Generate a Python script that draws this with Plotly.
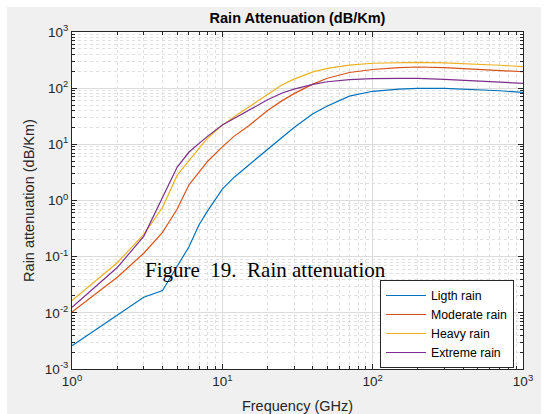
import plotly.graph_objects as go

# ---- data ----
freq = [1, 2, 3, 4, 5, 6, 7, 8, 10, 12, 15, 20, 25, 30, 40, 50, 70, 100, 150, 200, 300, 500, 700, 1000]

light_rain = [0.0026, 0.0092, 0.019, 0.025, 0.065, 0.15, 0.37, 0.66, 1.6, 2.6, 4.3, 8.2, 13.5, 20,
              35, 48, 72, 88, 96, 99, 99, 95, 90, 84]
moderate_rain = [0.0103, 0.043, 0.115, 0.27, 0.7, 1.9, 3.2, 5.0, 9.0, 14, 21.5, 40, 60, 80,
                 118, 150, 190, 215, 232, 238, 233, 215, 205, 196]
heavy_rain = [0.0165, 0.078, 0.25, 0.75, 2.8, 5.2, 8.5, 13, 22, 31, 46, 78, 115, 145,
              195, 225, 258, 278, 285, 287, 282, 268, 256, 242]
extreme_rain = [0.0125, 0.064, 0.23, 1.1, 3.9, 7.3, 10.5, 14, 22, 29, 40, 62, 82, 96,
                117, 130, 142, 148, 150, 149, 143, 133, 127, 122]

series_names = ["Ligth rain", "Moderate rain", "Heavy rain", "Extreme rain"]
series_colors = ["#0072BD", "#D95319", "#EDB120", "#7E2F8E"]

x_tick_vals = [1, 10, 100, 1000]
x_tick_text = ["10<sup>0</sup>", "10<sup>1</sup>", "10<sup>2</sup>", "10<sup>3</sup>"]
y_tick_vals = [1e-3, 1e-2, 1e-1, 1, 10, 100, 1000]
y_tick_text = ["10<sup>-3</sup>", "10<sup>-2</sup>", "10<sup>-1</sup>", "10<sup>0</sup>",
               "10<sup>1</sup>", "10<sup>2</sup>", "10<sup>3</sup>"]

title_text = "Rain Attenuation (dB/Km)"
x_title = "Frequency (GHz)"
y_title = "Rain attenuation (dB/Km)"
caption = "Figure\u00a0\u00a019.\u00a0\u00a0Rain attenuation"

# ---- figure ----
W, H = 549, 414
L, R, T, B = 72, 26, 32, 45
pw, ph = W - L - R, H - T - B

fig = go.Figure()
for name, ys, col in zip(series_names, [light_rain, moderate_rain, heavy_rain, extreme_rain], series_colors):
    fig.add_trace(go.Scatter(x=freq, y=ys, mode="lines", name=name,
                             line=dict(color=col, width=1.2)))

axis_common = dict(
    type="log", automargin=False,
    showline=True, linecolor="#262626", linewidth=1, mirror="allticks",
    ticks="inside", ticklen=5, tickcolor="#262626",
    showgrid=True, gridcolor="#dcdcdc", gridwidth=1,
    tickfont=dict(size=13.5, color="#262626"),
    tickmode="array",
    minor=dict(dtick="D1", showgrid=True, gridcolor="#e0e0e0", griddash="dot",
               ticks="inside", ticklen=3, tickcolor="#262626"),
    zeroline=False,
)

fig.update_layout(
    width=W, height=H,
    margin=dict(l=L, r=R, t=T, b=B, autoexpand=False),
    paper_bgcolor="#f0f0f0", plot_bgcolor="white",
    font=dict(family="Liberation Sans, Arial, sans-serif", color="#262626"),
    title=dict(text="<b>" + title_text + "</b>", x=(L + pw / 2) / W, xanchor="center",
               y=1 - 18 / H, yanchor="middle", yref="container",
               font=dict(size=14.5, color="#000000")),
    xaxis=dict(axis_common, range=[0, 3], tickvals=x_tick_vals, ticktext=x_tick_text,
               title=dict(text=x_title, font=dict(size=14.5, color="#262626"), standoff=12)),
    yaxis=dict(axis_common, range=[-3, 3], tickvals=y_tick_vals, ticktext=y_tick_text,
               title=dict(text=y_title, font=dict(size=14.5, color="#262626"), standoff=6)),
    legend=dict(x=(380 - L) / pw, y=(H - B - 280) / ph, xanchor="left", yanchor="top",
                bgcolor="white", bordercolor="#262626", borderwidth=1,
                font=dict(size=12.3, color="#000000"), tracegroupgap=0, itemwidth=40),
    showlegend=True,
)

# white outer border around the grey figure panel
def px_x(p):
    return (p - L) / pw

def px_y(p):
    return (H - B - p) / ph

for x0, x1, y0, y1 in [(-10, 7, -10, H + 10), (541, W + 10, -10, H + 10), (-10, W + 10, -10, 7)]:
    fig.add_shape(type="rect", xref="paper", yref="paper",
                  x0=px_x(x0), x1=px_x(x1), y0=px_y(y1), y1=px_y(y0),
                  fillcolor="white", line=dict(width=0), layer="above")

fig.add_annotation(text=caption, xref="paper", yref="paper",
                   x=px_x(265), y=px_y(270), xanchor="center", yanchor="middle",
                   showarrow=False,
                   font=dict(family="Liberation Serif, Times New Roman, serif", size=21, color="#000000"))

fig.write_html("out.html", config={"displayModeBar": False},
               post_script="document.body.style.margin='0';")
